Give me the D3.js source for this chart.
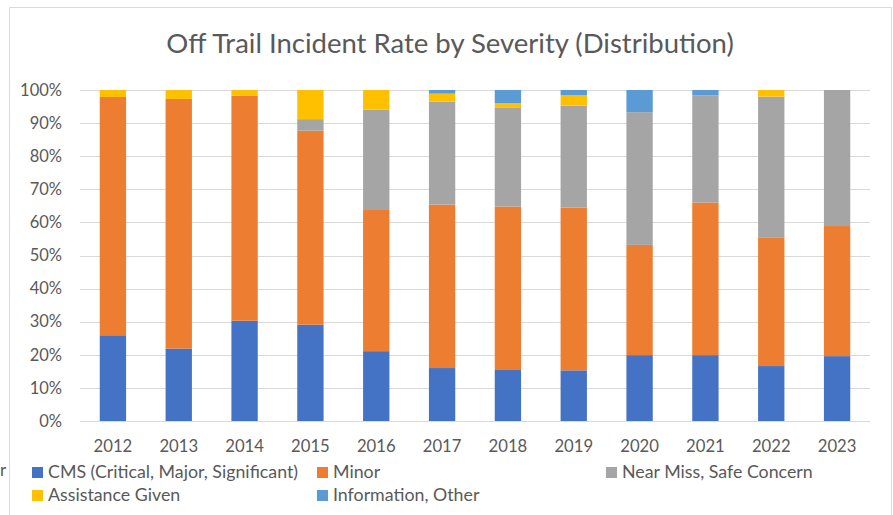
<!DOCTYPE html>
<html>
<head>
<meta charset="utf-8">
<script src="https://cdn.jsdelivr.net/npm/d3@7"></script>
<style>
  body { margin: 0; background: #fff; }
  text { font-family: Lato, "Open Sans", sans-serif; fill: #595959; }
</style>
</head>
<body>
<div class="chart"></div>
<script>
// data (percent of year total)
var years = ["2012", "2013", "2014", "2015", "2016", "2017", "2018", "2019", "2020", "2021", "2022", "2023"];
var seriesNames = ["CMS (Critical, Major, Significant)", "Minor", "Near Miss, Safe Concern", "Assistance Given", "Information, Other"];
var cms        = [25.9, 21.9, 30.3, 29.1, 21.1, 16.0, 15.4, 15.3, 19.9, 19.9, 16.6, 19.6];
var minor      = [72.0, 75.4, 68.0, 58.6, 42.9, 49.4, 49.4, 49.2, 33.3, 46.1, 38.9, 39.3];
var nearMiss   = [0, 0, 0, 3.5, 30.1, 31.1, 29.8, 30.8, 40.1, 32.4, 42.5, 41.1];
var assistance = [2.1, 2.7, 1.7, 8.8, 5.9, 2.4, 1.4, 3.1, 0, 0, 2.0, 0];
var infoOther  = [0, 0, 0, 0, 0, 1.1, 4.0, 1.6, 6.7, 1.6, 0, 0];
var yTicks = [0, 10, 20, 30, 40, 50, 60, 70, 80, 90, 100];

var colors = ["#4472C4", "#ED7D31", "#A5A5A5", "#FFC000", "#5B9BD5"];

var svgWidth = 893;
var svgHeight = 515;

var svg = d3.select(".chart")
  .append("svg")
  .attr("width", svgWidth)
  .attr("height", svgHeight);

// chart frame (spreadsheet object border)
svg.append("path")
  .attr("d", "M9.5,515 V7.5 H891.5 V515")
  .attr("fill", "none")
  .attr("stroke", "#d9d9d9");
svg.append("text").attr("x", 0).attr("y", 476).style("font-size", "17px").text("r");

// building the table d3.stack needs
var table = years.map(function(y, i) {
  return { year: y, s0: cms[i], s1: minor[i], s2: nearMiss[i], s3: assistance[i], s4: infoOther[i] };
});
var stacked = d3.stack().keys(["s0", "s1", "s2", "s3", "s4"])(table);

var xScale = d3.scaleBand().domain(years).range([80, 870]).paddingInner(0.6).paddingOuter(0.3);
var yScale = d3.scaleLinear().domain([0, 100]).range([421, 90]);

// gridlines
svg.append("g")
  .selectAll("line")
  .data(yTicks)
  .enter()
  .append("line")
  .attr("x1", 80)
  .attr("x2", 870)
  .attr("y1", function(d) { return Math.round(yScale(d)) + 0.5; })
  .attr("y2", function(d) { return Math.round(yScale(d)) + 0.5; })
  .attr("stroke", "#d9d9d9")
  .attr("stroke-width", 1);

// bars
svg.append("g")
  .selectAll("g")
  .data(stacked)
  .enter()
  .append("g")
  .attr("fill", function(d, i) { return colors[i]; })
  .selectAll("rect")
  .data(function(d) { return d; })
  .enter()
  .append("rect")
  .attr("x", function(d) { return xScale(d.data.year); })
  .attr("width", xScale.bandwidth())
  .attr("y", function(d) { return yScale(d[1]); })
  .attr("height", function(d) { return yScale(d[0]) - yScale(d[1]); });

// y axis labels
var leftAxis = d3.axisLeft(yScale).tickValues(yTicks).tickSize(0).tickPadding(0)
  .tickFormat(function(d) { return d + "%"; });
var yAxis = svg.append("g").attr("transform", "translate(62,0)").call(leftAxis);
yAxis.select(".domain").remove();
yAxis.selectAll("text").style("font-size", "16.5px").style("font-family", null).attr("fill", "#595959");

// x axis labels
var bottomAxis = d3.axisBottom(xScale).tickSize(0).tickPadding(0);
var xAxis = svg.append("g").attr("transform", "translate(0,421)").call(bottomAxis);
xAxis.select(".domain").remove();
xAxis.selectAll("text").attr("dy", null).attr("y", 31)
  .style("font-size", "16.7px").style("font-family", null).attr("fill", "#595959");

// title
svg.append("text")
  .attr("x", 450)
  .attr("y", 53)
  .attr("text-anchor", "middle")
  .style("font-size", "27.5px")
  .text("Off Trail Incident Rate by Severity (Distribution)");

// legend
var legendPos = [[32, 478], [317, 478], [606, 478], [32, 501], [317, 501]];
var legend = svg.append("g")
  .selectAll("g")
  .data(seriesNames)
  .enter()
  .append("g")
  .attr("transform", function(d, i) { return "translate(" + legendPos[i][0] + "," + legendPos[i][1] + ")"; });
legend.append("rect")
  .attr("x", 0).attr("y", -11)
  .attr("width", 11).attr("height", 11)
  .attr("fill", function(d, i) { return colors[i]; });
legend.append("text")
  .attr("x", 16).attr("y", 0)
  .style("font-size", "17.8px")
  .text(function(d) { return d; });
</script>
</body>
</html>
